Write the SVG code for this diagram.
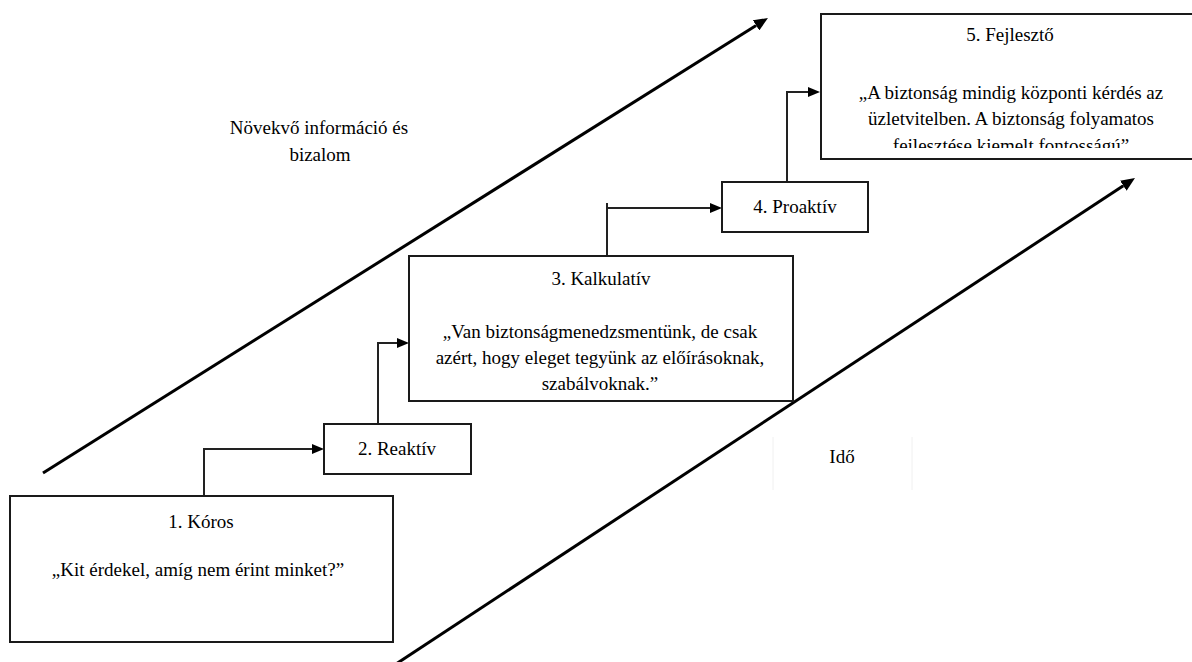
<svg xmlns="http://www.w3.org/2000/svg" width="1192" height="662" viewBox="0 0 1192 662" font-family="'Liberation Serif', 'Times New Roman', serif">
<style>
.box{fill:#fff;stroke:#1a1a1a;stroke-width:2}
.t{font-family:'Liberation Serif','Times New Roman',serif;font-size:19px;fill:#000;text-anchor:middle}
.conn{fill:none;stroke:#222;stroke-width:2}
.diag{fill:none;stroke:#000;stroke-width:3}
</style>
<defs>
<marker id="ah" viewBox="0 -6 14 12" markerWidth="14" markerHeight="12" refX="0" refY="0" orient="auto" markerUnits="userSpaceOnUse"><path d="M0,-6 L14,0 L0,6 z" fill="#000"/></marker>
<marker id="ac" viewBox="0 -5 12 10" markerWidth="12" markerHeight="10" refX="0" refY="0" orient="auto" markerUnits="userSpaceOnUse"><path d="M0,-5 L12,0 L0,5 z" fill="#000"/></marker>
<clipPath id="clip5"><rect x="822" y="14" width="370" height="134"/></clipPath>
</defs>
<rect width="1192" height="662" fill="#fff"/>

<g id="axes">
<path class="diag" d="M43,473 L756.1,25.4" marker-end="url(#ah)"/>
<path class="diag" d="M396,664 L1123.3,185.7" marker-end="url(#ah)"/>
</g>

<g id="connectors">
<path class="conn" d="M204,496 V449 H312" marker-end="url(#ac)"/>
<path class="conn" d="M378,424 V343 H397" marker-end="url(#ac)"/>
<path class="conn" d="M607,256 V203 M607,208 H710" marker-end="url(#ac)"/>
<path class="conn" d="M787,182 V92 H808" marker-end="url(#ac)"/>
</g>

<g id="label-info">
<text class="t" x="319" y="134">Növekvő információ és</text>
<text class="t" x="320" y="161">bizalom</text>
</g>

<g id="label-time">
<line x1="773" y1="437" x2="773" y2="490" stroke="#f0f0f0" stroke-width="1"/>
<line x1="912" y1="437" x2="912" y2="490" stroke="#f0f0f0" stroke-width="1"/>
<text class="t" x="842" y="463">Idő</text>
</g>

<g id="node1">
<rect class="box" x="10" y="496" width="383" height="146"/>
<text class="t" x="201" y="528">1. Kóros</text>
<text class="t" x="198" y="576">„Kit érdekel, amíg nem érint minket?”</text>
</g>

<g id="node2">
<rect class="box" x="324" y="424" width="147" height="50"/>
<text class="t" x="397" y="455">2. Reaktív</text>
</g>

<g id="node3">
<rect class="box" x="409" y="256" width="384" height="145"/>
<text class="t" x="601" y="285">3. Kalkulatív</text>
<text class="t" x="600" y="338">„Van biztonságmenedzsmentünk, de csak</text>
<text class="t" x="600" y="364">azért, hogy eleget tegyünk az előírásoknak,</text>
<text class="t" x="600" y="390">szabálvoknak.”</text>
</g>

<g id="node4">
<rect class="box" x="722" y="182" width="146" height="50"/>
<text class="t" x="795" y="213">4. Proaktív</text>
</g>

<g id="node5">
<rect class="box" x="821" y="14" width="380" height="145"/>
<text class="t" x="1010" y="41">5. Fejlesztő</text>
<text class="t" x="1011" y="99">„A biztonság mindig központi kérdés az</text>
<text class="t" x="1011" y="125">üzletvitelben. A biztonság folyamatos</text>
<text class="t" x="1011" y="152" clip-path="url(#clip5)">fejlesztése kiemelt fontosságú”</text>
</g>
</svg>
